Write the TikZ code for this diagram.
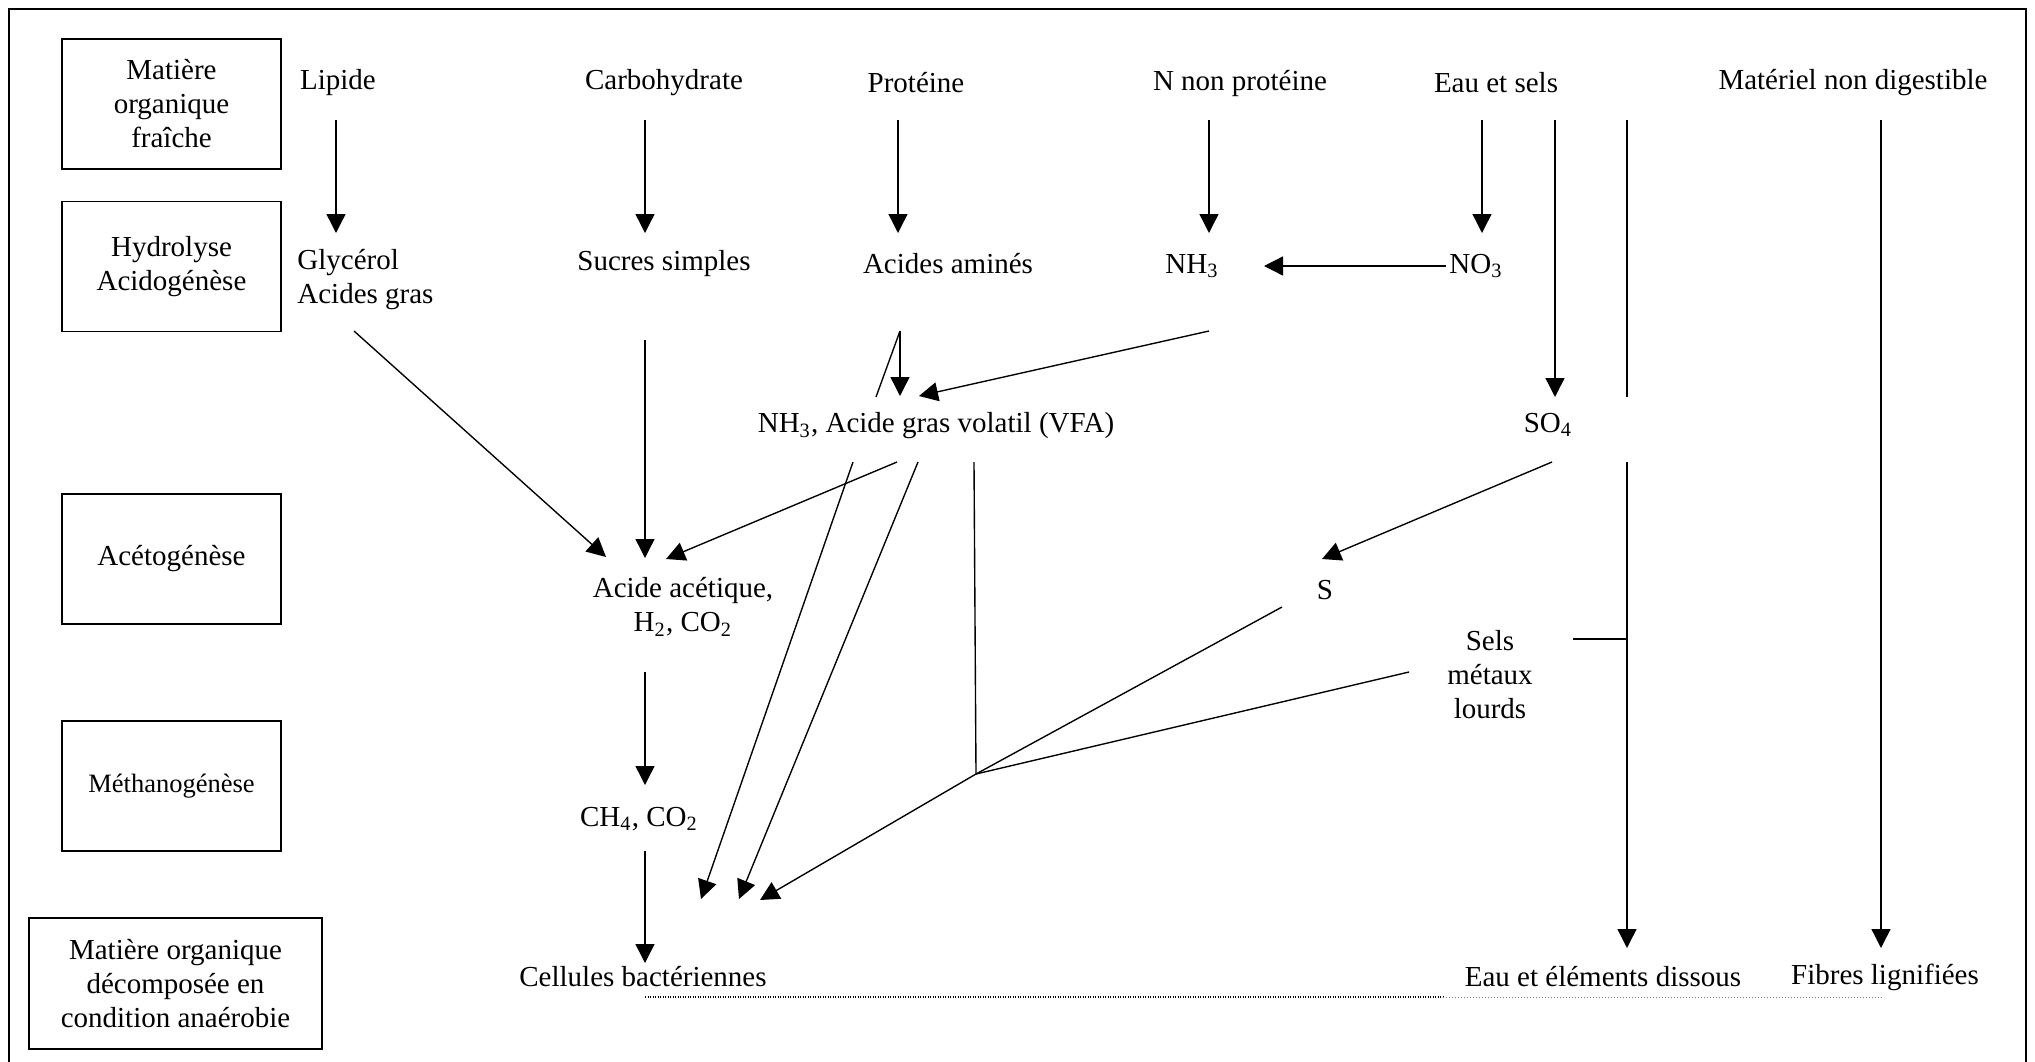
\documentclass[tikz,border=0pt]{standalone}
\usepackage{fontspec}
\setmainfont{Liberation Serif}
\usetikzlibrary{arrows.meta}

\begin{document}
\begin{tikzpicture}[x=0.4pt,y=0.4pt,yscale=-1,xscale=1,
  txt/.style={inner sep=0.75pt,align=center,font=\fontsize{11.6}{13.6}\selectfont},
  etape/.style={draw,line width=0.6pt,inner sep=0pt,align=center,minimum width=87.6pt,minimum height=52pt,font=\fontsize{11.6}{13.6}\selectfont},
  arr/.style={line width=0.55pt,-{Triangle[length=7.6pt,width=7.6pt]}},
  lin/.style={line width=0.55pt}]
\useasboundingbox (0,0) rectangle (2035,1061);

%Shape: Frame
\draw [line width=0.6pt] (9,1070) -- (9,9) -- (2026,9) -- (2026,1070) ;

%Shape: Rectangle (stages)
\node [etape] (fraiche) at (171.5,104) {Matière\\organique\\fraîche};
\node [etape] (hydro) at (171.5,266.5) {Hydrolyse\\Acidogénèse};
\node [etape] (aceto) at (171.5,559) {Acétogénèse};
\node [etape,font=\fontsize{10.6}{12.6}\selectfont] (metha) at (171.5,786) {Méthanogénèse};
\node [etape,minimum width=117.2pt,minimum height=52.4pt] (decomp) at (175.5,983.5) {Matière organique\\décomposée en\\condition anaérobie};

% Text Node
\node [txt] (lipide) at (338,83) {Lipide};
\node [txt] (carbo) at (664,83) {Carbohydrate};
\node [txt] (proteine) at (916,83) {Protéine};
\node [txt] (nnp) at (1240,83) {N non protéine};
\node [txt] (eau) at (1496,83) {Eau et sels};
\node [txt] (materiel) at (1853,83) {Matériel non digestible};
% Text Node
\node [txt,anchor=west,align=left] (glycerol) at (295,280) {Glycérol\\Acides gras};
\node [txt] (sucres) at (664,264) {Sucres simples};
\node [txt] (amines) at (948,264) {Acides aminés};
\node [txt] (nh) at (1192,266) {NH\textsubscript{3}};
\node [txt] (no) at (1476,266) {NO\textsubscript{3}};
% Text Node
\node [txt] (vfa) at (936,426) {NH\textsubscript{3}, Acide gras volatil (VFA)};
\node [txt] (so) at (1548,425) {SO\textsubscript{4}};
\node [txt] (acetique) at (683,607) {Acide acétique,\\H\textsubscript{2}, CO\textsubscript{2}};
\node [txt] (soufre) at (1325,590) {S};
\node [txt] (sels) at (1490,675) {Sels\\métaux\\lourds};
\node [txt] (methane) at (639,819) {CH\textsubscript{4}, CO\textsubscript{2}};
\node [txt] (cellules) at (643,977) {Cellules bactériennes};
\node [txt] (dissous) at (1603,977) {Eau et éléments dissous};
\node [txt] (fibres) at (1885,977) {Fibres lignifiées};

% end points
\coordinate (lipA) at (336,120);   \coordinate (lipB) at (336,233);
\coordinate (carA) at (645,120);   \coordinate (carB) at (645,233);
\coordinate (proA) at (898,120);   \coordinate (proB) at (898,233);
\coordinate (nnpA) at (1209,120);  \coordinate (nnpB) at (1209,233);
\coordinate (eauA) at (1482,120);  \coordinate (eauB) at (1482,233);
\coordinate (selA) at (1555,120);  \coordinate (selB) at (1555,397);
\coordinate (seuA) at (1627,120);  \coordinate (seuB) at (1627,397);
\coordinate (matA) at (1881,120);  \coordinate (matB) at (1881,948);
\coordinate (noA) at (1446,266);   \coordinate (noB) at (1264,266);
\coordinate (glyA) at (354,331);   \coordinate (glyB) at (606,557);
\coordinate (sucA) at (645,340);   \coordinate (sucB) at (645,558);
\coordinate (amiA) at (900,331);   \coordinate (amiB) at (900,396);
\coordinate (amiC) at (876,397);
\coordinate (nhA) at (1209,331);   \coordinate (nhB) at (919,396);
\coordinate (vfaA) at (897,462);   \coordinate (vfaB) at (666,559);
\coordinate (vfaC) at (853,462);   \coordinate (vfaD) at (701,899);
\coordinate (vfaE) at (918,462);   \coordinate (vfaF) at (739,899);
\coordinate (vfaG) at (974,462);   \coordinate (jonc) at (976,774);
\coordinate (sA) at (1282,607);    \coordinate (mA) at (1409,672);
\coordinate (joncB) at (760,900);
\coordinate (soA) at (1552,462);   \coordinate (soB) at (1322,559);
\coordinate (disA) at (1627,462);  \coordinate (disB) at (1627,948);
\coordinate (selsA) at (1573,639); \coordinate (selsB) at (1627,639);
\coordinate (aceA) at (645,672);   \coordinate (aceB) at (645,785);
\coordinate (ch4A) at (645,851);   \coordinate (ch4B) at (645,963);
\coordinate (dotA) at (645,997);   \coordinate (dotB) at (1443,997);
\coordinate (dotC) at (1882,997);

%Straight Lines
\draw [arr] (lipA) -- (lipB) ;
\draw [arr] (carA) -- (carB) ;
\draw [arr] (proA) -- (proB) ;
\draw [arr] (nnpA) -- (nnpB) ;
\draw [arr] (eauA) -- (eauB) ;
\draw [arr] (selA) -- (selB) ;
\draw [lin] (seuA) -- (seuB) ;
\draw [arr] (matA) -- (matB) ;
\draw [arr] (noA) -- (noB) ;
%Straight Lines
\draw [arr] (glyA) -- (glyB) ;
\draw [arr] (sucA) -- (sucB) ;
\draw [arr] (amiA) -- (amiB) ;
\draw [lin] (amiA) -- (amiC) ;
\draw [arr] (nhA) -- (nhB) ;
%Straight Lines
\draw [arr] (vfaA) -- (vfaB) ;
\draw [arr] (vfaC) -- (vfaD) ;
\draw [arr] (vfaE) -- (vfaF) ;
\draw [lin] (vfaG) -- (jonc) ;
\draw [lin] (sA) -- (jonc) ;
\draw [lin] (mA) -- (jonc) ;
\draw [arr] (jonc) -- (joncB) ;
\draw [arr] (soA) -- (soB) ;
\draw [arr] (disA) -- (disB) ;
\draw [lin] (selsA) -- (selsB) ;
\draw [arr] (aceA) -- (aceB) ;
\draw [arr] (ch4A) -- (ch4B) ;
%Dotted Lines
\draw [line width=0.9pt,dash pattern=on 0.5pt off 0.5pt] (dotA) -- (dotB) ;
\draw [line width=0.4pt,dash pattern=on 0.4pt off 0.8pt,gray] (dotB) -- (dotC) ;

\end{tikzpicture}
\end{document}
